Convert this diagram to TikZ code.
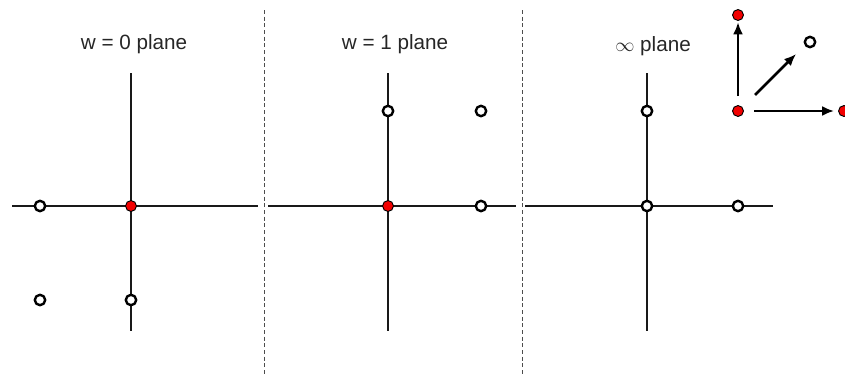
\documentclass[tikz,border=0pt]{standalone}
\usepackage{fontspec}
\setmainfont{Liberation Sans}
\usetikzlibrary{arrows.meta}
\begin{document}
\begin{tikzpicture}[x=0.75pt,y=-0.75pt,>={Latex[length=9pt,width=7.5pt]},line cap=butt,line join=round]
\colorlet{dotc}{red!95!black}
\colorlet{axisc}{black!90}

\tikzset{
axis/.style={draw=axisc, line width=2.1pt},
divider/.style={draw=black!70, densely dashed, line width=0.7pt},
opendot/.style={circle, draw=black, line width=1.8pt, fill=white, inner sep=0pt, minimum size=7.8pt},
reddot/.style={circle, draw=black, line width=0.7pt, fill=dotc, inner sep=0pt, minimum size=8.2pt},
planelabel/.style={font=\fontsize{15.5}{18}\selectfont, text=black!85},
moveline/.style={draw=black, line width=1.9pt, ->}
}

\useasboundingbox (0,0) rectangle (845,375);

% dividers between the planes
\draw[divider] (264,10) -- (264,375);
\draw[divider] (522,10) -- (522,375);

% w = 0 plane
\node[planelabel] (lab0) at (134,44) {w = 0 plane};
\coordinate (h0l) at (12,206);  \coordinate (h0r) at (258,206);
\coordinate (v0t) at (131,73);  \coordinate (v0b) at (131,331);
\draw[axis] (h0l) -- (h0r);
\draw[axis] (v0t) -- (v0b);
\node[reddot] (o0) at (131,206) {};
\node[opendot] (a0) at (40,206) {};
\node[opendot] (b0) at (40,300) {};
\node[opendot] (c0) at (131,300) {};

% w = 1 plane
\node[planelabel] (lab1) at (395,44) {w = 1 plane};
\coordinate (h1l) at (268,206);  \coordinate (h1r) at (516,206);
\coordinate (v1t) at (388,73);   \coordinate (v1b) at (388,331);
\draw[axis] (h1l) -- (h1r);
\draw[axis] (v1t) -- (v1b);
\node[reddot] (o1) at (388,206) {};
\node[opendot] (a1) at (388,111) {};
\node[opendot] (b1) at (481,111) {};
\node[opendot] (c1) at (481,206) {};

% infinity plane
\node[planelabel] (lab2) at (653,46) {$\infty$ plane};
\coordinate (h2l) at (525,206);  \coordinate (h2r) at (773,206);
\coordinate (v2t) at (647,73);   \coordinate (v2b) at (647,331);
\draw[axis] (h2l) -- (h2r);
\draw[axis] (v2t) -- (v2b);
\node[opendot] (o2) at (647,206) {};
\node[opendot] (a2) at (647,111) {};
\node[opendot] (c2) at (738,206) {};

% moves from the origin
\node[reddot] (m0) at (738,111) {};
\node[reddot] (mup) at (738,15) {};
\node[opendot] (mdiag) at (810,42) {};
\node[reddot] (mright) at (844,111) {};
\draw[moveline] (m0) ++(0,-15) -- ([yshift=-1pt]mup.south);
\draw[moveline] ([shift={(17,-16)}]m0.center) -- ([shift={(-14,12)}]mdiag.center);
\draw[moveline] ([xshift=12pt]m0.center) -- ([xshift=-3pt]mright.west);
\end{tikzpicture}
\end{document}
